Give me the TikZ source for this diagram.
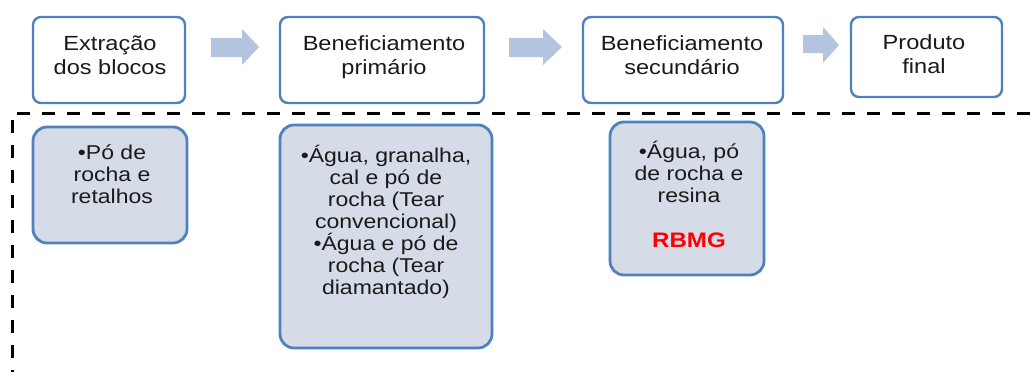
\documentclass[tikz,border=0pt]{standalone}
\usepackage{fontspec}
\setmainfont{Liberation Sans}[FakeStretch=1.15]
\begin{document}
\begin{tikzpicture}[x=1pt,y=-1pt,
  topbox/.style={draw=boxblue,line width=2.4pt,rounded corners=8pt,fill=white},
  botbox/.style={draw=boxblue,line width=2.8pt,rounded corners=14pt,fill=boxfill},
  toptxt/.style={anchor=base,align=center,inner sep=0pt,text=txtc,font=\fontsize{20.5}{24}\selectfont},
  bottxt/.style={anchor=base,align=center,inner sep=0pt,text=txtc,font=\fontsize{20}{22}\selectfont},
  blockarrow/.style={fill=arrowc,draw=none},
  sep/.style={draw=black,line width=3pt,dash pattern=on 13pt off 12pt}
]
\definecolor{boxblue}{HTML}{4F81BD}
\definecolor{boxfill}{HTML}{D5DCE8}
\definecolor{arrowc}{HTML}{B3C4DF}
\definecolor{txtc}{HTML}{1A1A1A}
\useasboundingbox (0,0) rectangle (1030,372);
\fill[white] (0,0) rectangle (1030,372);
% separator
\draw[sep] (1030,113) -- (12,113) -- (12,372);
% top boxes
\draw[topbox] (33,17) rectangle (185,103);
\node[toptxt] (t1) at (110,74) {Extração\\dos blocos};
\draw[topbox] (280,17) rectangle (484,103);
\node[toptxt] (t2) at (384,74) {Beneficiamento\\primário};
\draw[topbox] (583,17) rectangle (783,103);
\node[toptxt] (t3) at (682,74) {Beneficiamento\\secundário};
\draw[topbox] (851,17) rectangle (1002,97);
\node[toptxt] (t4) at (924,73) {Produto\\final};
% block arrows
\fill[blockarrow] (211,38) -- (242,38) -- (242,29) -- (259,47) -- (242,65) -- (242,57) -- (211,57) -- cycle;
\fill[blockarrow] (509,38) -- (543,38) -- (543,29) -- (562,47) -- (543,65) -- (543,57) -- (509,57) -- cycle;
\fill[blockarrow] (803,35) -- (823,35) -- (823,27) -- (839,45) -- (823,63) -- (823,53) -- (803,53) -- cycle;
% bottom boxes
\draw[botbox] (33,127) rectangle (187,243);
\node[bottxt] (t5) at (112,203) {•Pó de\\rocha e\\retalhos};
\draw[botbox] (280,125) rectangle (492,348);
\node[bottxt] (t6) at (386,294) {•Água, granalha,\\cal e pó de\\rocha (Tear\\convencional)\\•Água e pó de\\rocha (Tear\\diamantado)};
\draw[botbox] (610,122) rectangle (764,275);
\node[bottxt] (t7) at (689,202) {•Água, pó\\de rocha e\\resina};
\node[anchor=base,inner sep=0pt,text=red,font=\fontsize{21}{24}\selectfont\bfseries] (t8) at (689,247) {RBMG};
\end{tikzpicture}
\end{document}
